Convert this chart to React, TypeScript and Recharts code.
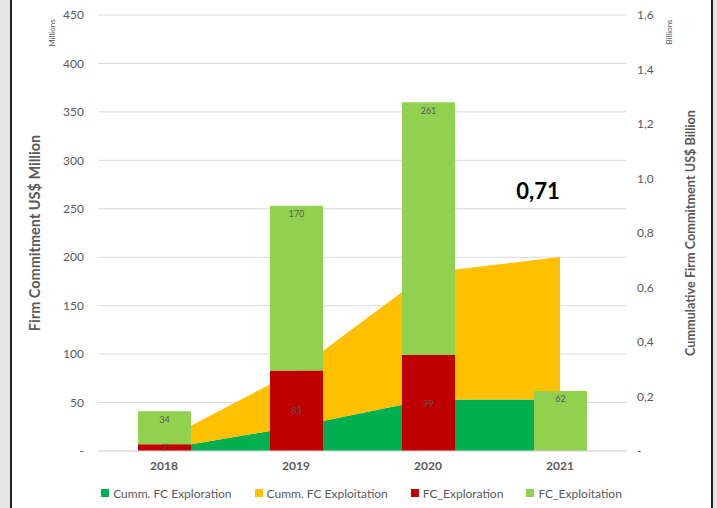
import React from 'react';
import { ComposedChart, Bar, Area, XAxis, YAxis, CartesianGrid, Legend, LabelList, Label } from 'recharts';

const years = ['2018', '2019', '2020', '2021'];
const fcExploration = [7, 83, 99, 0];
const fcExploitation = [34, 170, 261, 62];
// cumulative values, US$ billion
const cummExploration = [0.007, 0.09, 0.189, 0.189];
const cummExploitation = [0.034, 0.204, 0.465, 0.523];
const leftTicks = [0, 50, 100, 150, 200, 250, 300, 350, 400, 450];
const rightTicks = [0, 0.2, 0.4, 0.6, 0.8, 1.0, 1.2, 1.4, 1.6];
const legendOrder = ['Cumm. FC Exploration', 'Cumm. FC Exploitation', 'FC_Exploration', 'FC_Exploitation'];

const data = years.map((year, i) => ({
    year,
    fcExploration: fcExploration[i],
    fcExploitation: fcExploitation[i],
    cummExploration: cummExploration[i],
    cummExploitation: cummExploitation[i],
}));

const FONT = 'Lato, "Open Sans", sans-serif';
const GREY = '#595959';

const fmtLeft = (v: number) => (v === 0 ? '-' : String(v));
const fmtRight = (v: number) => (v === 0 ? '-' : v.toFixed(1).replace('.', ','));

const LeftTitle = (props: any) => {
    const { x, y, height } = props.viewBox;
    const cy = y + height / 2;
    return (
        <g fontFamily={FONT}>
            <text x={x + 34} y={cy} transform={`rotate(-90 ${x + 34} ${cy})`} textAnchor="middle"
                  dominantBaseline="central" fontWeight="bold" fontSize={14.5} fill={GREY}>
                Firm Commitment US$ Million
            </text>
            <text x={x + 52} y={y + 18} transform={`rotate(-90 ${x + 52} ${y + 18})`} textAnchor="middle"
                  dominantBaseline="central" fontSize={8} fill={GREY}>
                Millions
            </text>
        </g>
    );
};

const RightTitle = (props: any) => {
    const { x, y, height } = props.viewBox;
    const cy = y + height / 2;
    return (
        <g fontFamily={FONT}>
            <text x={x + 64} y={cy} transform={`rotate(-90 ${x + 64} ${cy})`} textAnchor="middle"
                  dominantBaseline="central" fontWeight="bold" fontSize={12.7} fill={GREY}>
                Cummulative Firm Commitment US$ Billion
            </text>
            <text x={x + 43} y={y + 17} transform={`rotate(-90 ${x + 43} ${y + 17})`} textAnchor="middle"
                  dominantBaseline="central" fontSize={8} fill={GREY}>
                Billions
            </text>
        </g>
    );
};

const TotalLabel = (props: any) => {
    const { x, y, index } = props;
    if (index !== years.length - 1) return null;
    const total = cummExploration[index] + cummExploitation[index];
    return (
        <text x={x - 22} y={y - 66} textAnchor="middle" dominantBaseline="central"
              fontFamily={FONT} fontWeight="bold" fontSize={22} fill="#000">
            {total.toFixed(2).replace('.', ',')}
        </text>
    );
};

const ExplorationLabel = (props: any) => {
    const { x, y, width, height, value } = props;
    if (!value) return null;
    return (
        <text x={x + width / 2} y={y + height / 2} textAnchor="middle" dominantBaseline="central"
              fontFamily={FONT} fontSize={9} fill={GREY}>
            {value}
        </text>
    );
};

const renderLegend = (props: any) => {
    const items = [...props.payload].sort(
        (a: any, b: any) => legendOrder.indexOf(a.value) - legendOrder.indexOf(b.value)
    );
    return (
        <div style={{ display: 'flex', justifyContent: 'center', alignItems: 'center', height: 30, gap: 23,
                      fontFamily: FONT, fontSize: 12, color: GREY, paddingLeft: 6 }}>
            {items.map((item: any) => (
                <div key={item.value} style={{ display: 'flex', alignItems: 'center' }}>
                    <span style={{ width: 8, height: 8, background: item.color, marginRight: 4, display: 'inline-block' }} />
                    <span>{item.value}</span>
                </div>
            ))}
        </div>
    );
};

const App: React.FC = () => {
    return (
        <div style={{ position: 'absolute', left: 0, top: 0, width: 717, height: 508, background: '#e6e6e6', overflow: 'hidden' }}>
            <div style={{ position: 'absolute', left: 10, top: 0, width: 699, height: 508, background: '#fff',
                          borderLeft: '2px solid #222', borderRight: '2px solid #222' }} />
            <div style={{ position: 'absolute', left: 0, top: 0 }}>
                <ComposedChart
                    width={717}
                    height={508}
                    data={data}
                    margin={{ top: 15, right: 0, bottom: 0, left: 0 }}
                    barSize={53}
                >
                    <CartesianGrid vertical={false} stroke="#d9d9d9" yAxisId="left" />
                    <XAxis dataKey="year" height={27} tickLine={false} axisLine={{ stroke: '#d9d9d9' }} tickSize={0}
                           tickMargin={10} tick={{ fill: GREY, fontSize: 12, fontWeight: 'bold', fontFamily: FONT }} />
                    <YAxis yAxisId="left" orientation="left" width={98} domain={[0, 450]} ticks={leftTicks}
                           tickFormatter={fmtLeft} axisLine={false} tickLine={false} tickSize={0} tickMargin={14}
                           tick={{ fill: GREY, fontSize: 12, fontFamily: FONT }}>
                        <Label content={LeftTitle} />
                    </YAxis>
                    <YAxis yAxisId="right" orientation="right" width={91} domain={[0, 1.6]} ticks={rightTicks}
                           tickFormatter={fmtRight} axisLine={false} tickLine={false} tickSize={0} tickMargin={11}
                           tick={{ fill: GREY, fontSize: 12, fontFamily: FONT, textAnchor: 'start' }}>
                        <Label content={RightTitle} />
                    </YAxis>
                    <Legend verticalAlign="bottom" height={30} content={renderLegend} />
                    <Area yAxisId="right" type="linear" dataKey="cummExploration" name="Cumm. FC Exploration"
                          stackId="cumm" fill="#00b050" stroke="none" fillOpacity={1} isAnimationActive={false} />
                    <Area yAxisId="right" type="linear" dataKey="cummExploitation" name="Cumm. FC Exploitation"
                          stackId="cumm" fill="#ffc000" stroke="none" fillOpacity={1} isAnimationActive={false}>
                        <LabelList dataKey="cummExploitation" content={TotalLabel} />
                    </Area>
                    <Bar yAxisId="left" dataKey="fcExploration" name="FC_Exploration" stackId="fc" fill="#c00000"
                         isAnimationActive={false}>
                        <LabelList dataKey="fcExploration" content={ExplorationLabel} />
                    </Bar>
                    <Bar yAxisId="left" dataKey="fcExploitation" name="FC_Exploitation" stackId="fc" fill="#92d050"
                         isAnimationActive={false}>
                        <LabelList dataKey="fcExploitation" position="insideTop" offset={5}
                                   style={{ fill: GREY, fontSize: 9, fontFamily: FONT }} />
                    </Bar>
                </ComposedChart>
            </div>
        </div>
    );
};

export default App;
